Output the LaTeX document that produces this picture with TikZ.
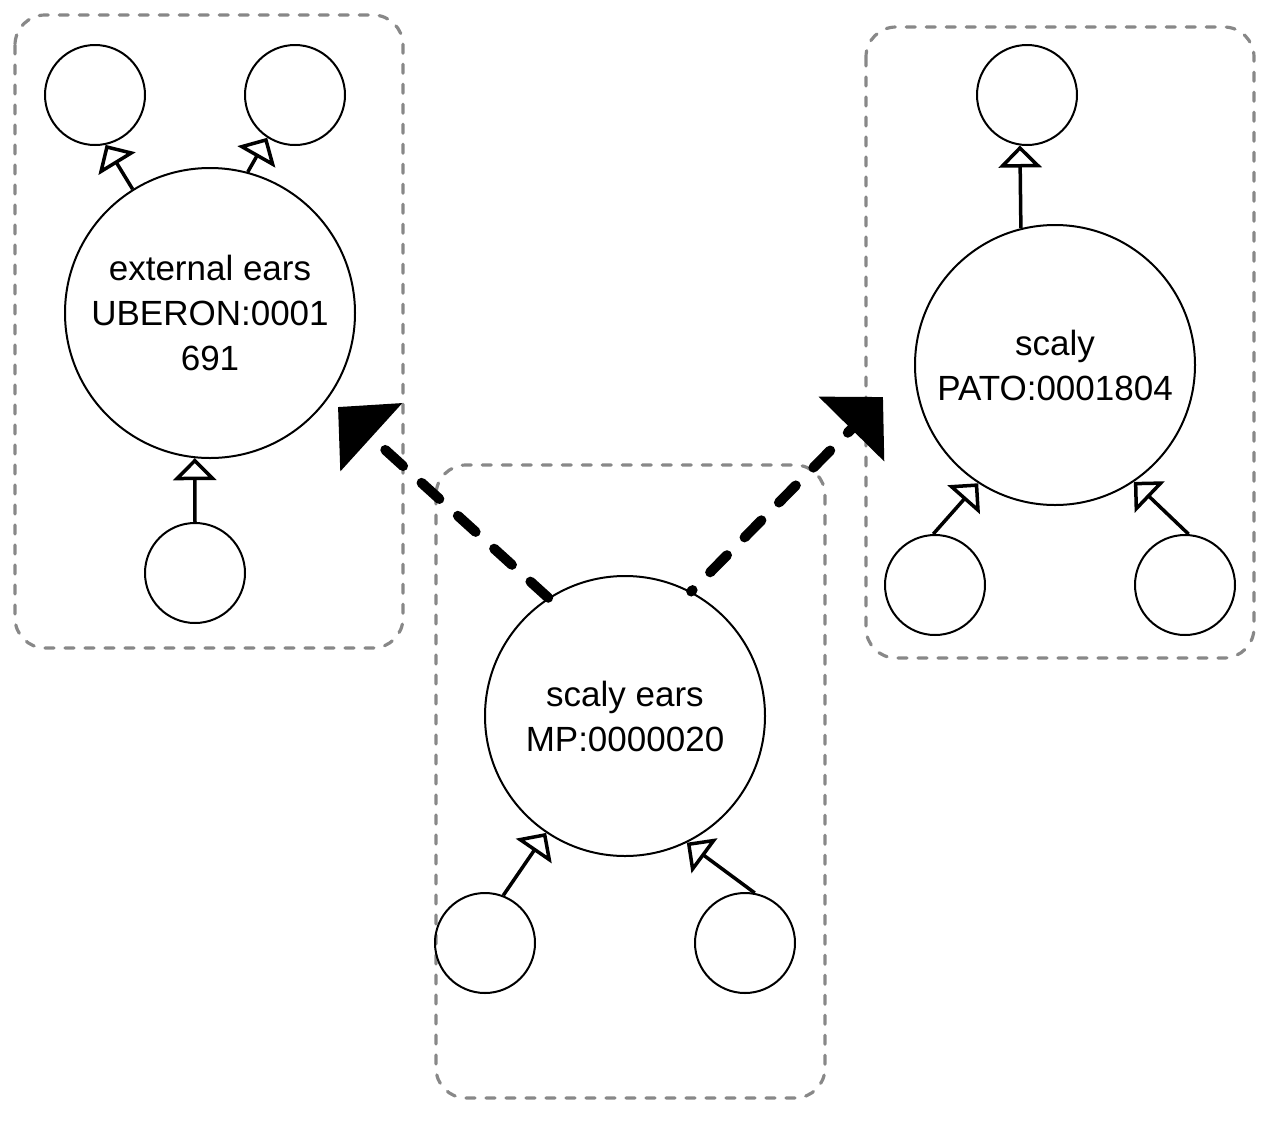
\documentclass[tikz,border=0pt]{standalone}
\usepackage{fontspec}
\setmainfont{Liberation Sans}
\usetikzlibrary{arrows.meta}
\definecolor{grpgray}{HTML}{888888}
\tikzset{
 grp/.style={draw=grpgray, line width=3.2pt, dash pattern=on 9pt off 11pt, line cap=round, rounded corners=30pt},
 bigc/.style={circle, draw, line width=2pt, minimum size=280pt, inner sep=0pt, align=center, font=\fontsize{35}{45}\selectfont},
 smallc/.style={circle, draw, line width=2pt, minimum size=100pt, inner sep=0pt},
 isa/.style={line width=3.5pt, -{Triangle[open, length=22pt, width=43pt]}},
 rel/.style={line width=10pt, line cap=round, dash pattern=on 24pt off 25pt, -{Triangle[length=45pt,width=90pt]}},
}
\begin{document}
\begin{tikzpicture}[x=1pt,y=-1pt]
\useasboundingbox (0,0) rectangle (1270,1120);
% group boxes
\draw[grp] (15,15) rectangle (403,648);
\draw[grp] (436,465) rectangle (825,1098);
\draw[grp] (866,27) rectangle (1254,658);
% left group
\node[bigc, minimum size=290pt] (ext) at (210,313) {external ears\\UBERON:0001\\691};
\node[smallc] (l1) at (95,95) {};
\node[smallc] (l2) at (295,95) {};
\node[smallc] (l3) at (195,573) {};
\draw[isa] (ext.122) -- (l1.-78);
\draw[isa] (ext.75) -- (l2.-123);
\draw[isa] (l3.90) -- (ext.-96);
% middle group
\node[bigc] (se) at (625,716) {scaly ears\\MP:0000020};
\node[smallc] (m1) at (485,943) {};
\node[smallc] (m2) at (745,943) {};
\draw[isa] (m1.69) -- (se.-124);
\draw[isa] (m2.79) -- (se.-64);
% right group
\node[bigc] (sc) at (1055,365) {scaly\\PATO:0001804};
\node[smallc] (r1) at (1027,95) {};
\node[smallc] (r2) at (935,585) {};
\node[smallc] (r3) at (1185,585) {};
\draw[isa] (sc.104) -- (r1.-98);
\draw[isa] (r2.92) -- (sc.-123);
\draw[isa] (r3.86) -- (sc.-56);
% relations
\coordinate (t1) at (338,407);
\coordinate (t2) at (883,397);
\draw[rel] (se.123) -- (t1);
\draw[rel, dash phase=22pt] (se.62) -- (t2);
\end{tikzpicture}
\end{document}
